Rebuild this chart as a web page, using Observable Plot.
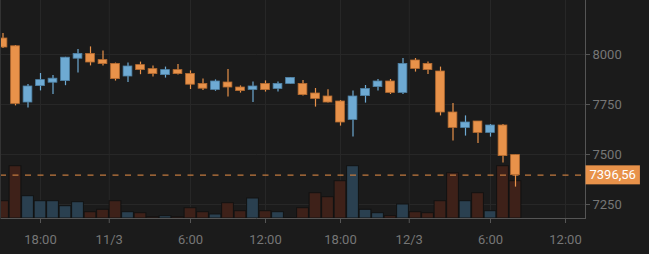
<!DOCTYPE html>
<html><head><meta charset="utf-8">
<script src="https://cdn.jsdelivr.net/npm/d3@7"></script>
<script src="https://cdn.jsdelivr.net/npm/@observablehq/plot@0.6"></script>
<style>
html,body{margin:0;padding:0;background:#1b1b1b;}
#chart{width:649px;height:254px;overflow:hidden;}
</style></head><body><div id="chart"></div>
<script>
// Hourly candles (index = hours since first candle, 15:00)
const opens  = [8080,8041,7760,7842,7859,7867,7979,8003,7972,7953,7890,7947,7927,7897,7922,7903,7853,7823,7860,7835,7823,7853,7828,7853,7853,7805,7790,7765,7673,7792,7837,7865,7808,7970,7953,7915,7710,7633,7665,7608,7645,7497];
const highs  = [8105,8045,7850,7905,7895,7986,8025,8038,8017,7957,7957,7962,7943,7937,7950,7918,7878,7873,7925,7843,7862,7868,7862,7884,7870,7830,7824,7770,7818,7845,7875,7875,7980,7980,7962,7937,7755,7693,7665,7650,7650,7497];
const lows   = [8030,7743,7732,7818,7800,7844,7907,7943,7943,7867,7860,7899,7887,7882,7897,7825,7820,7816,7787,7807,7760,7812,7812,7852,7792,7737,7757,7642,7587,7757,7818,7800,7800,7912,7900,7693,7568,7592,7555,7587,7457,7337];
const closes = [8035,7753,7840,7872,7879,7984,8003,7960,7952,7877,7940,7922,7902,7922,7902,7849,7829,7865,7835,7817,7840,7822,7853,7883,7797,7778,7760,7660,7790,7828,7865,7808,7953,7928,7922,7710,7633,7660,7608,7645,7492,7396.56];
const volumes = [1730,5230,2230,1730,1730,1230,1630,630,870,1730,630,530,130,230,130,1030,630,400,1530,730,2000,730,630,50,1030,2530,2130,3730,5230,870,530,230,1400,630,530,1730,4530,1730,2530,730,5230,3730];

const xTicks = [3, 8.5, 15, 21, 27, 32.5, 39, 45];
const xTickLabels = ["18:00","11/3","6:00","12:00","18:00","12/3","6:00","12:00"];
const yTicks = [7250, 7500, 7750, 8000];
const lastPrice = 7396.56;
const lastPriceLabel = "7396,56";

const candles = opens.map((o, i) => ({
  i, open: o, high: highs[i], low: lows[i], close: closes[i], volume: volumes[i], up: closes[i] >= o
}));

const yMin = 7180, yMax = 8270;
const xMin = -0.2, xMax = 46.6;
const volToPrice = 0.05;
const bodyHalf = 0.35, volHalf = 0.47;
const ORANGE = "#e8924a", BLUE = "#6eaad3";
const labelMap = new Map(xTicks.map((t, k) => [t, xTickLabels[k]]));

const chart = Plot.plot({
  width: 649, height: 254,
  marginLeft: 0, marginRight: 64, marginTop: 0, marginBottom: 36,
  style: {background: "#1b1b1b", color: "#767676", fontFamily: "Roboto", fontSize: "13px"},
  x: {type: "linear", domain: [xMin, xMax], label: null},
  y: {domain: [yMin, yMax], label: null},
  marks: [
    Plot.gridX(xTicks, {stroke: "#272727", strokeOpacity: 1}),
    Plot.gridY(yTicks, {stroke: "#272727", strokeOpacity: 1}),
    Plot.rect(candles, {
      x1: d => d.i - volHalf, x2: d => d.i + volHalf,
      y1: () => yMin, y2: d => yMin + d.volume * volToPrice,
      fill: d => d.up ? "#2a4050" : "#3e2119", stroke: "#121212", strokeWidth: 1
    }),
    Plot.ruleY([lastPrice], {stroke: "#c27a3f", strokeDasharray: "6,6.5", strokeWidth: 1.2}),
    Plot.ruleX(candles, {x: "i", y1: "low", y2: "high", stroke: d => d.up ? BLUE : ORANGE, strokeWidth: 1.2}),
    Plot.rect(candles, {
      x1: d => d.i - bodyHalf, x2: d => d.i + bodyHalf,
      y1: "open", y2: "close",
      fill: d => d.up ? BLUE : ORANGE,
      stroke: d => d.up ? "#4f82a6" : "#b56b30", strokeWidth: 0.8
    }),
    Plot.frame({anchor: "bottom", stroke: "#555"}),
    Plot.frame({anchor: "right", stroke: "#555"}),
    Plot.frame({anchor: "left", stroke: "#333"}),
    Plot.axisX(xTicks, {tickFormat: d => labelMap.get(d), tickSize: 5, tickPadding: 11, stroke: "#555", fill: "#767676", fontSize: 13}),
    Plot.axisY(yTicks, {anchor: "right", tickFormat: d => String(d), tickSize: 4, tickPadding: 3, stroke: "#555", fill: "#767676", fontSize: 13, label: null}),
    Plot.text([lastPrice], {y: d => d, frameAnchor: "right", dx: 4, textAnchor: "start", text: () => lastPriceLabel, fill: "white", fontSize: 13, className: "last-label"})
  ]
});
document.getElementById("chart").appendChild(chart);

// background box for the last-price label
const svg = d3.select(chart);
const t = svg.select("g.last-label text");
if (!t.empty()) {
  const bb = t.node().getBBox();
  const g = svg.select("g.last-label");
  const tr = t.attr("transform");
  g.insert("rect", "text")
    .attr("x", bb.x - 4).attr("y", bb.y - 2)
    .attr("width", bb.width + 8).attr("height", bb.height + 4)
    .attr("fill", ORANGE)
    .attr("transform", tr);
}
</script></body></html>
